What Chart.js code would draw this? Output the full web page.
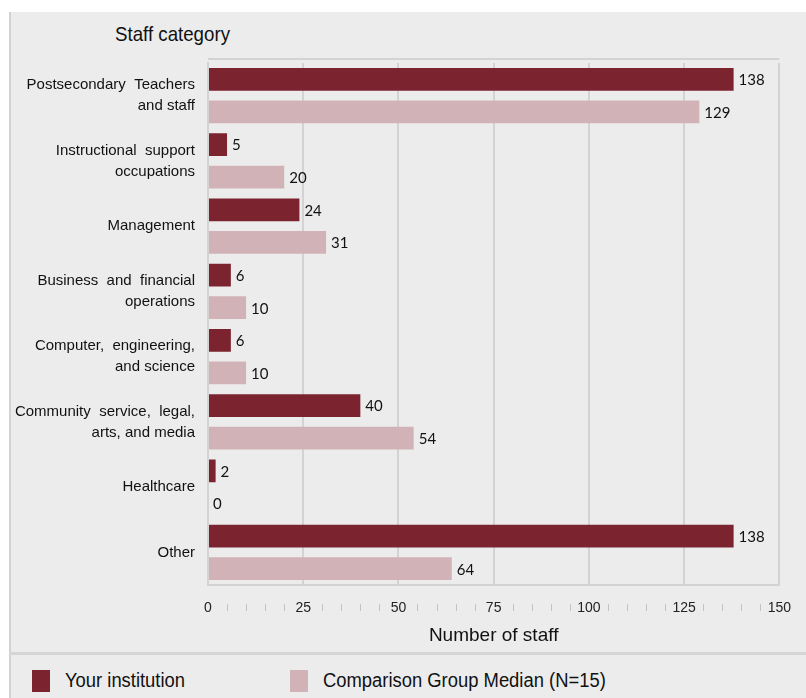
<!DOCTYPE html>
<html>
<head>
<meta charset="utf-8">
<script src="https://cdn.jsdelivr.net/npm/chart.js@4/dist/chart.umd.min.js"></script>
<style>
  body { margin: 0; background: #fff; }
  #panel {
    position: absolute; left: 9px; top: 12px; width: 797px; height: 686px;
    background: #ececec; border-left: 2px solid #d2d2d2; box-sizing: border-box;
  }
  #wrap { position: absolute; left: 0; top: 0; width: 806px; height: 650px; }
  #title {
    position: absolute; left: 115px; top: 22px; white-space: nowrap;
    font: 21px "Liberation Sans", sans-serif; color: #111;
    transform: scaleX(0.89); transform-origin: left center;
  }
  #sep { position: absolute; left: 9px; top: 652px; width: 797px; height: 3px; background: #d6d6d6; }
  #legend {
    position: absolute; left: 0; top: 669px; width: 806px; height: 26px;
    font: 20px "Liberation Sans", sans-serif; color: #111;
  }
  .item { position: absolute; top: 0; display: flex; align-items: center; white-space: nowrap; }
  .box { width: 18px; height: 22px; margin-right: 15px; }
  .txt { display: inline-block; transform: scaleX(0.92); transform-origin: left center; }
</style>
</head>
<body>
<div id="panel"></div>
<div id="sep"></div>
<div id="title">Staff category</div>
<div id="wrap"><canvas id="staffChart"></canvas></div>
<div id="legend"></div>
<script>
const categories = [
    ["Postsecondary  Teachers", "and staff"],
    ["Instructional  support", "occupations"],
    "Management",
    ["Business  and  financial", "operations"],
    ["Computer,  engineering,", "and science"],
    ["Community  service,  legal,", "arts, and media"],
    "Healthcare",
    "Other"
];
const yourInstitution = [138, 5, 24, 6, 6, 40, 2, 138];
const comparisonMedian = [129, 20, 31, 10, 10, 54, 0, 64];
const xTicks = [0, 25, 50, 75, 100, 125, 150];

const DARK = "#7b2430";
const PINK = "#d1b3b7";
const GRID = "#d3d3d3";

// value labels to the right of each bar
const barLabels = {
    id: "barLabels",
    afterDatasetsDraw(chart) {
        const ctx = chart.ctx;
        ctx.save();
        ctx.font = '15px Lato, "Liberation Sans", sans-serif';
        ctx.fillStyle = "#111";
        ctx.textBaseline = "middle";
        chart.data.datasets.forEach((ds, i) => {
            chart.getDatasetMeta(i).data.forEach((bar, j) => {
                ctx.fillText(String(ds.data[j]), bar.x + 5, bar.y + 1);
            });
        });
        ctx.restore();
    }
};

// top border of plot + small minor ticks between labels
const extras = {
    id: "extras",
    beforeDatasetsDraw(chart) {
        const { ctx, chartArea } = chart;
        ctx.save();
        ctx.strokeStyle = GRID;
        ctx.lineWidth = 2;
        ctx.beginPath();
        ctx.moveTo(chartArea.left, chartArea.top - 4);
        ctx.lineTo(chartArea.right, chartArea.top - 4);
        ctx.stroke();
        ctx.restore();
    },
    afterDraw(chart) {
        const { ctx } = chart;
        const x = chart.scales.x;
        ctx.save();
        ctx.strokeStyle = "#c4c4c4";
        ctx.lineWidth = 1;
        for (let v = 5; v < 150; v += 5) {
            if (v % 25 === 0) continue;
            const px = Math.round(x.getPixelForValue(v)) + 0.5;
            ctx.beginPath();
            ctx.moveTo(px, x.top + 19);
            ctx.lineTo(px, x.top + 26);
            ctx.stroke();
        }
        ctx.restore();
    }
};

window.onload = () => {
    let ctx = document.getElementById("staffChart").getContext("2d");
    let chart = new Chart(ctx, {
        type: "bar",
        data: {
            labels: categories,
            datasets: [
                { label: "Your institution", data: yourInstitution, backgroundColor: DARK,
                  barPercentage: 0.7, categoryPercentage: 1.0 },
                { label: "Comparison Group Median (N=15)", data: comparisonMedian, backgroundColor: PINK,
                  barPercentage: 0.7, categoryPercentage: 1.0 }
            ]
        },
        options: {
            indexAxis: "y",
            responsive: true,
            maintainAspectRatio: false,
            animation: false,
            layout: { padding: { top: 63, right: 26, left: 0, bottom: 0 } },
            plugins: { legend: { display: false }, tooltip: { enabled: false } },
            scales: {
                x: {
                    min: 0, max: 150,
                    afterBuildTicks: (s) => { s.ticks = xTicks.map(v => ({ value: v })); },
                    grid: { color: GRID, lineWidth: 2, drawTicks: false },
                    border: { color: GRID, width: 2 },
                    ticks: {
                        padding: 15, color: "#222",
                        font: { family: '"Liberation Sans", sans-serif', size: 14 }
                    },
                    title: {
                        display: true, text: "Number of staff", color: "#111",
                        padding: { top: 0, bottom: 3 },
                        font: { family: '"Liberation Sans", sans-serif', size: 19 }
                    },
                    afterFit: (s) => { s.height = 65; }
                },
                y: {
                    grid: { display: false, drawTicks: false },
                    border: { color: GRID, width: 2 },
                    ticks: {
                        padding: 13, color: "#111",
                        font: { family: '"Liberation Sans", Arial, sans-serif', size: 15, lineHeight: 1.4 }
                    },
                    afterFit: (s) => { s.width = 208; }
                }
            }
        },
        plugins: [barLabels, extras]
    });

    // html legend from the datasets
    const lefts = [32, 290];
    let html = "";
    chart.data.datasets.forEach((ds, i) => {
        html += `<div class="item" style="left:${lefts[i]}px"><span class="box" style="background:${ds.backgroundColor}"></span><span class="txt">${ds.label}</span></div>`;
    });
    document.getElementById("legend").innerHTML = html;
};
</script>
</body>
</html>
